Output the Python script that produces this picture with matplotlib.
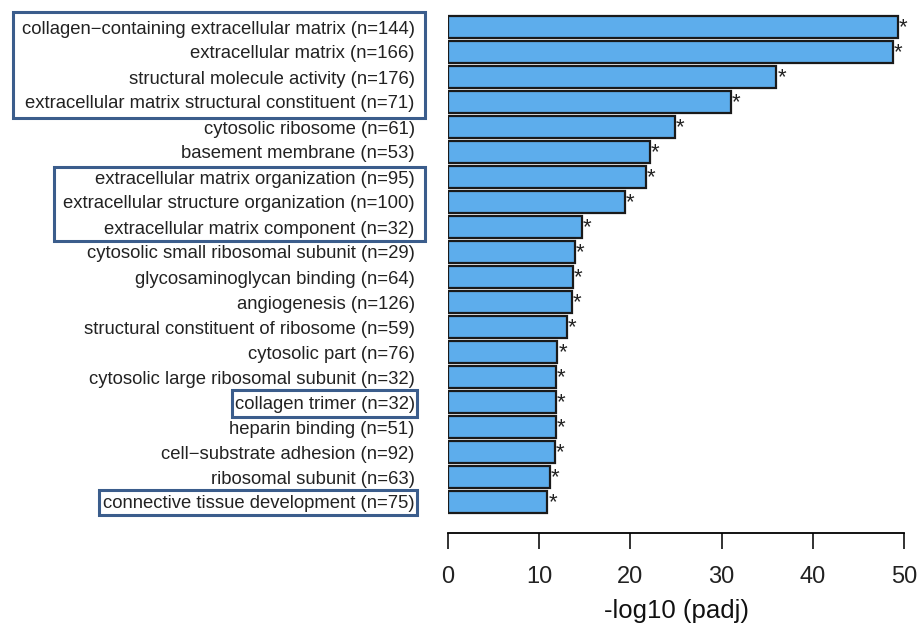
import matplotlib
matplotlib.use("Agg")
import matplotlib.pyplot as plt
from matplotlib.patches import Rectangle
from matplotlib.transforms import offset_copy

plt.rcParams['font.family'] = ['Liberation Sans', 'DejaVu Sans']

terms = [
    "collagen\u2212containing extracellular matrix",
    "extracellular matrix",
    "structural molecule activity",
    "extracellular matrix structural constituent",
    "cytosolic ribosome",
    "basement membrane",
    "extracellular matrix organization",
    "extracellular structure organization",
    "extracellular matrix component",
    "cytosolic small ribosomal subunit",
    "glycosaminoglycan binding",
    "angiogenesis",
    "structural constituent of ribosome",
    "cytosolic part",
    "cytosolic large ribosomal subunit",
    "collagen trimer",
    "heparin binding",
    "cell\u2212substrate adhesion",
    "ribosomal subunit",
    "connective tissue development",
]
counts = [144, 166, 176, 71, 61, 53, 95, 100, 32, 29, 64, 126, 59, 76, 32, 32, 51, 92, 63, 75]
neglog_padj = [49.3, 48.8, 36.0, 31.0, 24.9, 22.1, 21.7, 19.4, 14.7, 13.9,
               13.7, 13.6, 13.0, 12.0, 11.8, 11.8, 11.8, 11.7, 11.15, 10.9]
significant = [True] * len(terms)

# groups of labels outlined with a frame: (first row, last row, pad left, pad right, pad top, pad bottom) in px
frames = [(0, 3, 9, 10, 17, 14), (6, 8, 9, 10, 12, 12), (15, 15, 3, 2, 14, 13), (19, 19, 4, 2, 14, 11)]

W, H = 921, 627
fig = plt.figure(figsize=(W / 100, H / 100), dpi=100)
ax = fig.add_axes([448 / W, 1 - 533 / H, (904 - 448) / W, (533 - 5) / H])

ypos = list(range(len(terms)))
ax.barh(ypos, neglog_padj, height=0.86, color='#5dadec', edgecolor='#1a1a1a', linewidth=1.6)

star_tr = offset_copy(ax.transData, fig=fig, x=1, y=-1, units='dots')
for y, v, s in zip(ypos, neglog_padj, significant):
    if s:
        ax.text(v, y, '*', ha='left', va='center', fontsize=16, color='#222222',
                transform=star_tr, clip_on=False)

ax.set_xlim(0, 50)
ax.set_ylim(20.24, -0.88)
ax.set_yticks(ypos)
ax.set_yticklabels([f"{t} (n={n})" for t, n in zip(terms, counts)], fontsize=13.3, color='#222222')
ax.tick_params(axis='y', length=0, pad=24)
ax.set_xticks([0, 10, 20, 30, 40, 50])
ax.tick_params(axis='x', length=11.5, width=1.3, pad=12, labelsize=17, colors='#222222')
for side in ['left', 'right', 'top']:
    ax.spines[side].set_visible(False)
ax.spines['bottom'].set_linewidth(1.3)
ax.set_xlabel('-log10 (padj)', fontsize=18.5, labelpad=8, color='#111111')

fig.canvas.draw()
renderer = fig.canvas.get_renderer()
labels = ax.get_yticklabels()
for first, last, pl, pr, pt, pb in frames:
    boxes = [labels[i].get_window_extent(renderer) for i in range(first, last + 1)]
    x0 = min(b.x0 for b in boxes) - pl
    x1 = max(b.x1 for b in boxes) + pr
    yc_top = (boxes[0].y0 + boxes[0].y1) / 2
    yc_bot = (boxes[-1].y0 + boxes[-1].y1) / 2
    y1 = yc_top + pt
    y0 = yc_bot - pb
    fig.patches.append(Rectangle((x0, y0), x1 - x0, y1 - y0, transform=None,
                                 fill=False, edgecolor='#3b5d8c', linewidth=2.2))

fig.savefig('out.png', dpi=100, facecolor='white')
